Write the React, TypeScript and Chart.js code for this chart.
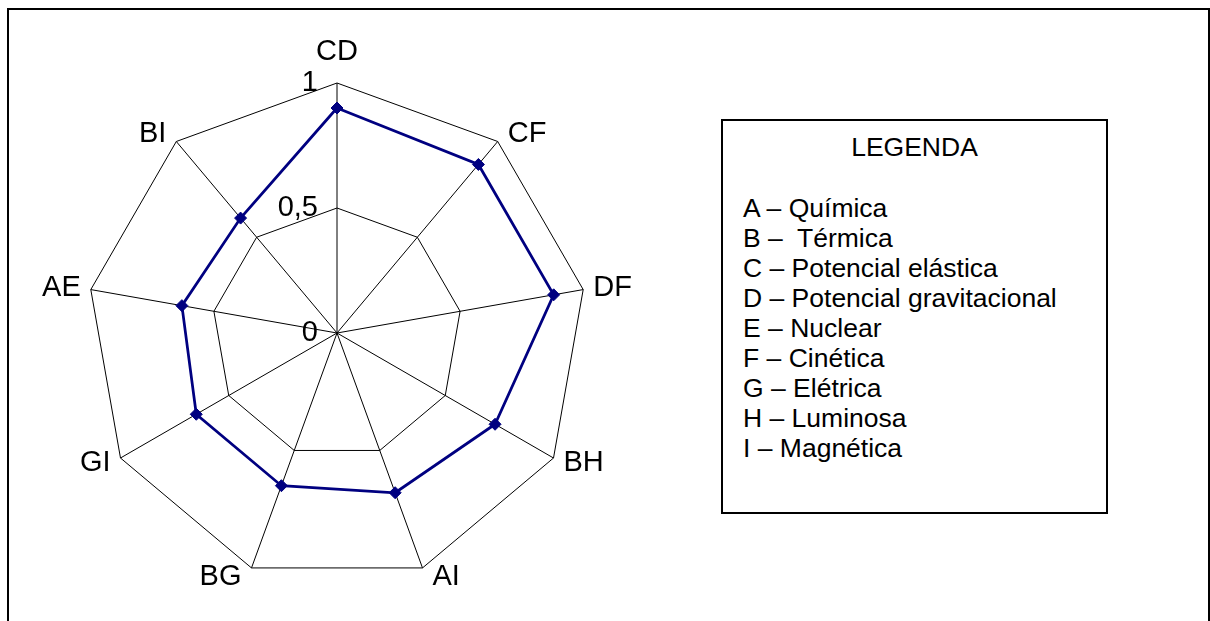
import React, { useEffect, useRef } from 'react';
import { Chart, registerables } from 'chart.js';

Chart.register(...registerables);

const CATEGORIES = ['CD', 'CF', 'DF', 'BH', 'AI', 'BG', 'GI', 'AE', 'BI'];
const VALUES = [0.9, 0.88, 0.88, 0.73, 0.68, 0.65, 0.65, 0.63, 0.6];
const TICK_VALUES = [0, 0.5, 1];
const TICK_LABELS = ['0', '0,5', '1'];
const LEGEND_TITLE = 'LEGENDA';
const LEGEND_ITEMS = [
  'A – Química',
  'B –  Térmica',
  'C – Potencial elástica',
  'D – Potencial gravitacional',
  'E – Nuclear',
  'F – Cinética',
  'G – Elétrica',
  'H – Luminosa',
  'I – Magnética',
];

const FONT = '"Liberation Sans", Arial, Helvetica, sans-serif';
const SERIES_COLOR = '#000080';

const labelPlugin = {
  id: 'excelLabels',
  afterDraw(chart: any) {
    const scale = chart.scales.r;
    const ctx = chart.ctx;
    ctx.save();
    ctx.fillStyle = '#000';
    ctx.font = `29px ${FONT}`;
    const r = scale.drawingArea;
    CATEGORIES.forEach((lab, i) => {
      const v = scale.getPointPosition(i, r);
      const p = scale.getPointPosition(i, r + 10);
      const dx = v.x - scale.xCenter;
      const dy = v.y - scale.yCenter;
      if (Math.abs(dx) < 2) {
        ctx.textAlign = 'center';
        if (dy < 0) {
          ctx.textBaseline = 'alphabetic';
          ctx.fillText(lab, v.x, v.y - 23);
        } else {
          ctx.textBaseline = 'top';
          ctx.fillText(lab, v.x, v.y + 10);
        }
      } else {
        ctx.textAlign = dx > 0 ? 'left' : 'right';
        ctx.textBaseline = 'middle';
        ctx.fillText(lab, v.x + (dx > 0 ? 10 : -10), p.y);
      }
    });
    ctx.textAlign = 'right';
    ctx.textBaseline = 'middle';
    scale.ticks.forEach((t: any) => {
      const idx = TICK_VALUES.indexOf(t.value);
      if (idx < 0) return;
      const d = scale.getDistanceFromCenterForValue(t.value);
      ctx.fillText(TICK_LABELS[idx], scale.xCenter - 19, scale.yCenter - d);
    });
    ctx.restore();
  },
};

export default function App() {
  const canvasRef = useRef<HTMLCanvasElement | null>(null);

  useEffect(() => {
    if (!canvasRef.current) return;
    const chart = new Chart(canvasRef.current, {
      type: 'radar',
      data: {
        labels: CATEGORIES,
        datasets: [
          {
            data: VALUES,
            borderColor: SERIES_COLOR,
            backgroundColor: SERIES_COLOR,
            borderWidth: 2.75,
            fill: false,
            pointStyle: 'rectRot',
            pointRadius: 6,
            pointBorderWidth: 1,
            pointBackgroundColor: SERIES_COLOR,
            pointBorderColor: SERIES_COLOR,
          },
        ],
      },
      options: {
        responsive: false,
        animation: false,
        devicePixelRatio: 1,
        layout: { padding: { left: 87, right: 93, top: 83, bottom: 37 } },
        plugins: { legend: { display: false }, tooltip: { enabled: false } },
        scales: {
          r: {
            min: 0,
            max: 1,
            ticks: { stepSize: 0.5, display: false },
            grid: { color: '#000', lineWidth: 1, circular: false },
            angleLines: { color: '#000', lineWidth: 1 },
            pointLabels: { display: false },
          },
        },
      },
      plugins: [labelPlugin],
    } as any);
    return () => chart.destroy();
  }, []);

  return (
    <div
      style={{
        position: 'fixed',
        left: 0,
        top: 0,
        width: 1210,
        height: 621,
        overflow: 'hidden',
        background: '#fff',
        fontFamily: FONT,
      }}
    >
      <div
        style={{
          position: 'absolute',
          left: 7,
          top: 8,
          width: 1203,
          height: 700,
          border: '2px solid #000',
          boxSizing: 'border-box',
        }}
      />
      <canvas
        ref={canvasRef}
        width={680}
        height={620}
        style={{ position: 'absolute', left: 0, top: 0, width: 680, height: 620 }}
      />
      <div
        style={{
          position: 'absolute',
          left: 721,
          top: 119,
          width: 387,
          height: 395,
          border: '2px solid #000',
          boxSizing: 'border-box',
        }}
      >
        <div
          style={{
            position: 'absolute',
            left: 0,
            right: 0,
            top: 11,
            textAlign: 'center',
            fontSize: 26.5,
            lineHeight: '30px',
          }}
        >
          {LEGEND_TITLE}
        </div>
        <div style={{ position: 'absolute', left: 20, top: 72 }}>
          {LEGEND_ITEMS.map((t) => (
            <div key={t} style={{ fontSize: 26.5, lineHeight: '30px', whiteSpace: 'pre' }}>
              {t}
            </div>
          ))}
        </div>
      </div>
    </div>
  );
}
